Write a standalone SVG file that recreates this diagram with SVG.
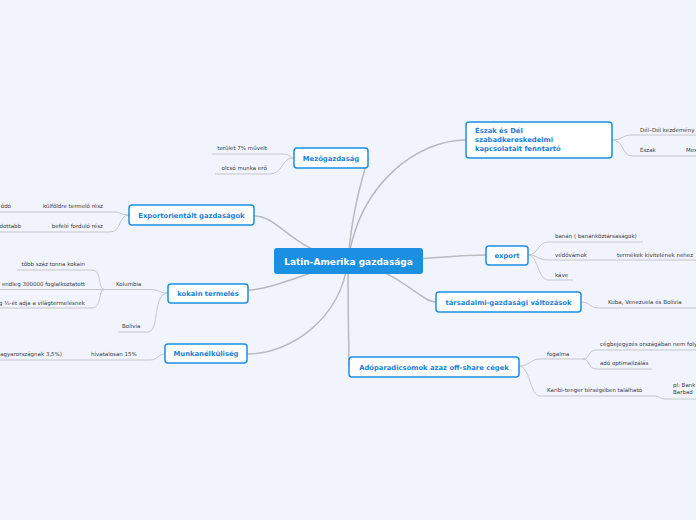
<svg xmlns="http://www.w3.org/2000/svg" width="696" height="520" viewBox="0 0 696 520">
<style>
.bg{fill:#f2f4fd}
.main{stroke:#b9b9c0;stroke-width:1.5;fill:none}
.sub{stroke:#c6c6cb;stroke-width:1;fill:none}
.root rect{fill:#1b8fe2;rx:3}
.root text{fill:#fff;font-family:"DejaVu Sans",Verdana,sans-serif;font-weight:bold;font-size:9px;text-anchor:middle}
.n rect{fill:#fff;stroke:#1b8fe2;stroke-width:1.5;rx:3}
.n text{fill:#1b7fd6;font-family:"DejaVu Sans",Verdana,sans-serif;font-weight:bold;font-size:6.8px;text-anchor:middle}
.t{fill:#3a3a3a;font-family:"DejaVu Sans",Verdana,sans-serif;font-size:5.5px}
.e{text-anchor:end}
</style>
<rect class="bg" x="0" y="0" width="696" height="520"/>
<g id="connectors">
<path class="main" d="M348,261 C352,210 362,180 368,158"/>
<path class="main" d="M348,261 C360,180 420,140 466,140"/>
<path class="main" d="M348,261 C420,261 450,255 486,255"/>
<path class="main" d="M348,261 C400,270 420,302 436,302"/>
<path class="main" d="M348,261 C348,320 349,350 349,366"/>
<path class="main" d="M348,261 C340,320 290,354 247,354"/>
<path class="main" d="M348,261 C300,275 270,290 248,290"/>
<path class="main" d="M348,261 C290,250 280,216 254,216"/>
<!-- Mezőgazdaság -->
<path class="sub" d="M212,154 L284,154 C290,154 289,158 294,158"/>
<path class="sub" d="M215,174 L268,174 C285,174 280,158 294,158"/>
<!-- Exportorientált -->
<path class="sub" d="M0,212 L113,212 C122,212 120,215 129,215"/>
<path class="sub" d="M0,232 L110,232 C122,232 118,215 129,215"/>
<!-- kokain -->
<path class="sub" d="M0,289.5 L150,289.5 C160,289.5 158,293 168,293"/>
<path class="sub" d="M17,270 L92,270 C102,270 98,289.5 104,289.5"/>
<path class="sub" d="M0,308 L92,308 C102,308 98,289.5 104,289.5"/>
<path class="sub" d="M118,332 L148,332 C160,332 152,293 168,293"/>
<!-- Munkanélküliség -->
<path class="sub" d="M0,360 L150,360 C158,360 158,354 165,354"/>
<!-- Észak és Dél -->
<path class="sub" d="M612,140 C622,140 622,135 632,135 L696,135"/>
<path class="sub" d="M612,140 C624,140 622,156 632,156 L696,156"/>
<!-- export -->
<path class="sub" d="M528,255 C538,255 538,242 548,242 L643,242"/>
<path class="sub" d="M528,255 C538,255 538,260 548,260 L696,260"/>
<path class="sub" d="M528,255 C538,255 538,280 548,280 L573,280"/>
<!-- társadalmi -->
<path class="sub" d="M581,302 C590,302 590,308 598,308 L696,308"/>
<!-- Adóparadicsomok -->
<path class="sub" d="M519,366 C530,366 530,359 540,359 L583,359"/>
<path class="sub" d="M583,359 C590,359 588,350 596,350 L696,350"/>
<path class="sub" d="M583,359 C590,359 588,369 596,369 L652,369"/>
<path class="sub" d="M519,366 C530,366 530,396 540,396 L655,396 C660,396 660,399 665,399 L696,399"/>
</g>
<g id="root" class="root"><rect x="274" y="248" width="149" height="26"/><text x="348.5" y="264.5">Latin-Amerika gazdasága</text></g>
<g id="mezogazdasag" class="n"><rect x="294" y="148" width="74" height="20"/><text x="331" y="160.5">Mezőgazdaság</text></g>
<g id="exportorientalt" class="n"><rect x="129" y="205" width="125" height="20"/><text x="191.5" y="217.5">Exportorientált gazdaságok</text></g>
<g id="kokain" class="n"><rect x="168" y="284" width="80" height="19"/><text x="208" y="296">kokain termelés</text></g>
<g id="munkanelkuliseg" class="n"><rect x="165" y="344" width="82" height="19"/><text x="206" y="356">Munkanélküliség</text></g>
<g id="eszakdel" class="n"><rect x="466" y="122" width="146" height="36"/><text x="475" y="133" style="text-anchor:start">Észak és Dél</text><text x="475" y="142" style="text-anchor:start">szabadkereskedelmi</text><text x="475" y="151" style="text-anchor:start">kapcsolatait fenntartó</text></g>
<g id="export" class="n"><rect x="486" y="246" width="42" height="19"/><text x="507" y="258">export</text></g>
<g id="tarsadalmi" class="n"><rect x="436" y="292" width="145" height="20"/><text x="508.5" y="304.5">társadalmi-gazdasági változások</text></g>
<g id="adoparadicsomok" class="n"><rect x="349" y="357" width="170" height="20"/><text x="434" y="369.5">Adóparadicsomok azaz off-share cégek</text></g>
<g id="labels">
<text class="t e" x="267" y="150">terület 7% művelt</text>
<text class="t e" x="267" y="170">olcsó munka erő</text>
<text class="t e" x="103" y="208">külföldre termelő rész</text>
<text class="t e" x="11" y="208">ódó</text>
<text class="t e" x="103" y="227.5">befelé forduló rész</text>
<text class="t e" x="21" y="227.5">dottabb</text>
<text class="t" x="116" y="286">Kolumbia</text>
<text class="t e" x="85" y="266">több száz tonna kokain</text>
<text class="t e" x="85" y="286">endleg 300000 foglalkoztatott</text>
<text class="t e" x="85" y="305">g ¼-ét adja a világtermelésnek</text>
<text class="t" x="122" y="328">Bolivia</text>
<text class="t" x="91" y="356">hivatalosan 15%</text>
<text class="t e" x="62" y="356">agyarországnak 3,5%)</text>
<text class="t" x="640" y="131.5">Dél–Dél kezdemény</text>
<text class="t" x="640" y="152">Észak</text>
<text class="t" x="686" y="152">Mex</text>
<text class="t" x="555" y="238">banán ( banánköztársaságok)</text>
<text class="t" x="555" y="257">védővámok</text>
<text class="t" x="617" y="257">termékek kivitelének nehez</text>
<text class="t" x="555" y="277">káve</text>
<text class="t" x="608" y="304">Kuba, Venezuela és Bolívia</text>
<text class="t" x="547" y="356">fogalma</text>
<text class="t" x="600" y="346">cégbejegyzés országában nem foly</text>
<text class="t" x="600" y="365">adó optimalizálás</text>
<text class="t" x="547" y="392">Karibi-tenger térségében található</text>
<text class="t" x="673" y="387">pl: Bank</text>
<text class="t" x="673" y="394">Barbad</text>
</g>
</svg>
